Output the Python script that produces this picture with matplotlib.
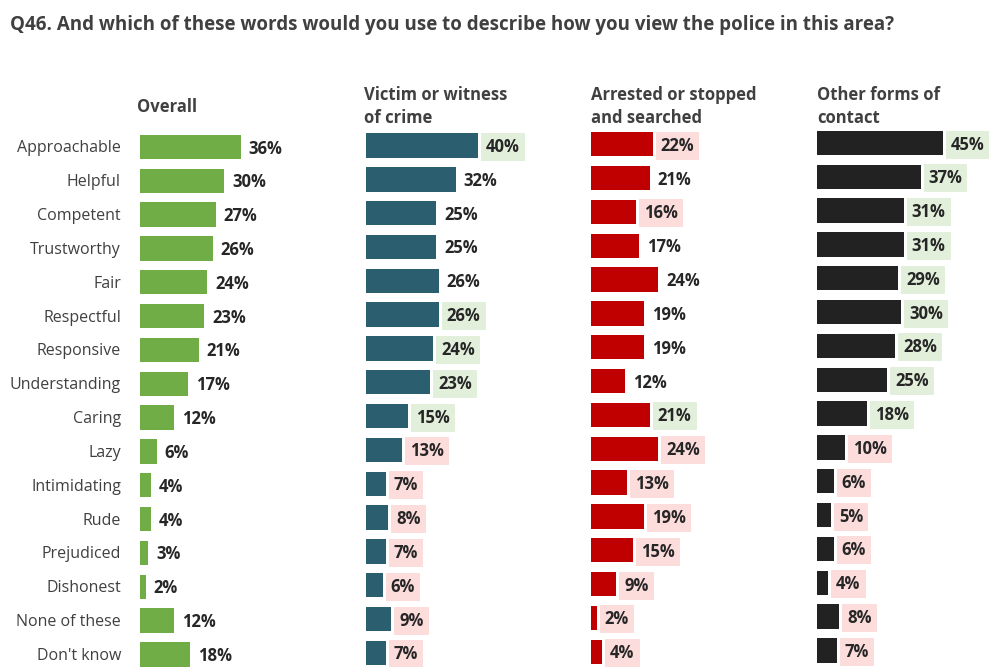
import matplotlib.pyplot as plt

plt.rcParams['font.family'] = ['Open Sans', 'DejaVu Sans']

words = ['Approachable', 'Helpful', 'Competent', 'Trustworthy', 'Fair',
         'Respectful', 'Responsive', 'Understanding', 'Caring', 'Lazy',
         'Intimidating', 'Rude', 'Prejudiced', 'Dishonest', 'None of these',
         "Don't know"]

overall = [36, 30, 27, 26, 24, 23, 21, 17, 12, 6, 4, 4, 3, 2, 12, 18]
victim = [40, 32, 25, 25, 26, 26, 24, 23, 15, 13, 7, 8, 7, 6, 9, 7]
arrested = [22, 21, 16, 17, 24, 19, 19, 12, 21, 24, 13, 19, 15, 9, 2, 4]
other = [45, 37, 31, 31, 29, 30, 28, 25, 18, 10, 6, 5, 6, 4, 8, 7]

# significance vs overall: 'h' higher, 'l' lower, '' no difference
overall_sig = [''] * 16
victim_sig = ['h', '', '', '', '', 'h', 'h', 'h', 'h', 'l', 'l', 'l', 'l', 'l', 'l', 'l']
arrested_sig = ['l', '', 'l', '', '', '', '', '', 'h', 'l', 'l', 'l', 'l', 'l', 'l', 'l']
other_sig = ['h'] * 9 + ['l'] * 7

headers = ['Overall', 'Victim or witness\nof crime', 'Arrested or stopped\nand searched',
           'Other forms of\ncontact']

W, H = 989, 667
fig = plt.figure(figsize=(W / 100, H / 100), dpi=100)

PX_PER_PCT = 2.8
ROW = 33.83
sig_colors = {'h': '#e2efda', 'l': '#fddcdc'}

panels = [
    # data, sig, bar colour, bar left (px), first row centre (px)
    (overall, overall_sig, '#70ad47', 140, 147.0),
    (victim, victim_sig, '#2b5f6f', 366, 145.5),
    (arrested, arrested_sig, '#c00000', 591, 144.3),
    (other, other_sig, '#222222', 817, 143.0),
]

dy = 1.5 / ROW  # nudge text down a touch

for i, (vals, sig, col, left, first) in enumerate(panels):
    top = first - ROW / 2
    height = ROW * len(vals)
    width = 170
    ax = fig.add_axes([left / W, 1 - (top + height) / H, width / W, height / H])
    ax.set_xlim(0, width / PX_PER_PCT)
    ax.set_ylim(len(vals) - 0.5, -0.5)
    ax.axis('off')
    ypos = list(range(len(vals)))
    ax.barh(ypos, vals, height=0.72, color=col, edgecolor='none')
    for y, v, s in zip(ypos, vals, sig):
        bbox = None
        if s:
            bbox = dict(boxstyle='square,pad=0.3', fc=sig_colors[s], ec='none')
        ax.text(v + 8 / PX_PER_PCT, y + dy, f'{v}%', ha='left', va='center',
                fontsize=12, fontweight='bold', color='#262626', bbox=bbox)
    if i == 0:
        for y, w in zip(ypos, words):
            ax.text(-19 / PX_PER_PCT, y + dy, w, ha='right', va='center',
                    fontsize=11.5, color='#404040')

# column headers
fig.text(137 / W, 1 - 107 / H, headers[0], ha='left', va='center',
         fontsize=12, fontweight='bold', color='#404040')
for hdr, x in zip(headers[1:], [364, 591, 817]):
    fig.text(x / W, 1 - 106.5 / H, hdr, ha='left', va='center', fontsize=12,
             fontweight='bold', color='#404040', linespacing=1.35)

fig.text(10 / W, 1 - 25 / H,
         'Q46. And which of these words would you use to describe how you view the police in this area?',
         ha='left', va='center', fontsize=13.5, fontweight='bold', color='#404040')

fig.savefig('out.png', dpi=100)
